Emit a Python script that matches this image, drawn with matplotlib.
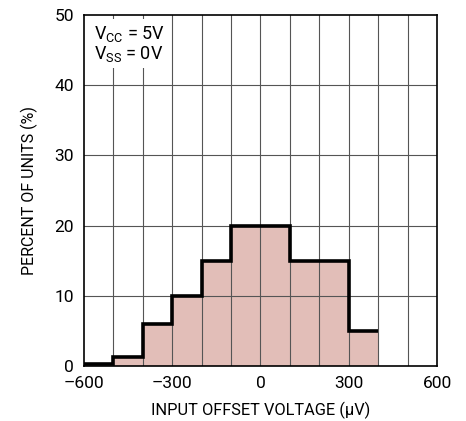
import numpy as np
import matplotlib
matplotlib.use("Agg")
import matplotlib.pyplot as plt

plt.rcParams['font.family'] = ['Roboto', 'DejaVu Sans']
plt.rcParams['mathtext.fontset'] = 'custom'
plt.rcParams['mathtext.rm'] = 'Roboto'

# histogram data
bin_edges = [-600, -500, -400, -300, -200, -100, 0, 100, 200, 300, 400]
percent = [0.2, 1.3, 6, 10, 15, 20, 20, 15, 15, 5]
x_ticks = [-600, -300, 0, 300, 600]
y_ticks = [0, 10, 20, 30, 40, 50]

fig = plt.figure(figsize=(4.66, 4.21), dpi=100)
ax = fig.add_axes([0.180, 0.131, 0.758, 0.833])

ax.stairs(percent, bin_edges, fill=True, color='#e2beb8', zorder=1)
for x in range(-500, 600, 100):
    ax.axvline(x, color='#555555', linewidth=0.8, zorder=2)
for y in range(10, 50, 10):
    ax.axhline(y, color='#555555', linewidth=0.8, zorder=2)
ax.stairs(percent, bin_edges, color='black', linewidth=2.6, zorder=4,
          baseline=None)

ax.set_xlim(-600, 600)
ax.set_ylim(0, 50)
ax.set_xticks(x_ticks)
ax.set_xticklabels(['\u2013600', '\u2013300', '0', '300', '600'])
ax.set_yticks(y_ticks)
ax.tick_params(direction='in', length=0, labelsize=12.5, pad=7)
for s in ax.spines.values():
    s.set_linewidth(1.2)
    s.set_zorder(5)

ax.text(-565, 48.8, r'V$_{\mathrm{CC}}$ = 5V' + '\n' + r'V$_{\mathrm{SS}}$ = 0V',
        fontsize=13, va='top', ha='left', linespacing=1.05, zorder=3,
        bbox=dict(facecolor='white', edgecolor='none', pad=3))

ax.set_xlabel('INPUT OFFSET VOLTAGE (\u03bcV)', fontsize=11.8, labelpad=8)
ax.set_ylabel('PERCENT OF UNITS (%)', fontsize=11.5, labelpad=12)

fig.savefig('out.png', dpi=100)
